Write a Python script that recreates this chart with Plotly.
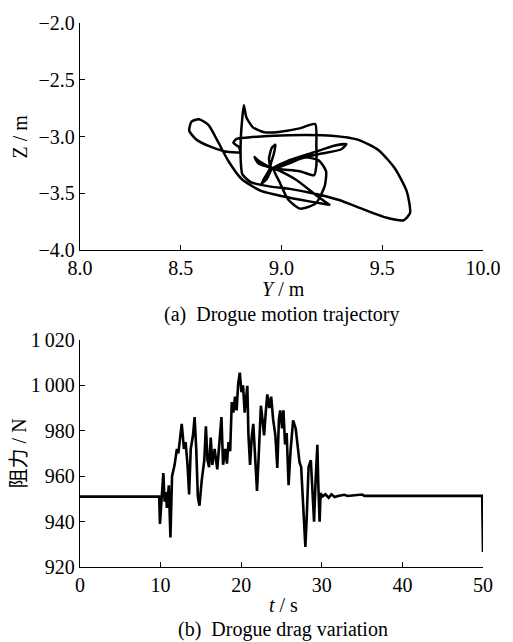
import plotly.graph_objects as go
from plotly.subplots import make_subplots

# ---- (a) drogue trajectory (Y, Z in m) ----
traj_y = [9.242, 9.170, 9.074, 8.994, 8.946, 8.962, 8.970, 8.951, 8.938, 8.943,
          8.914, 8.901, 8.927, 8.954, 9.026, 9.154, 9.266, 9.322, 9.295, 9.186,
          9.058, 8.962, 8.991, 9.034, 9.093, 9.170, 9.215, 9.221, 9.186, 9.119,
          9.039, 8.962, 8.890, 8.866, 8.885, 8.962, 9.090, 9.162, 9.173, 9.173,
          9.167, 9.090, 8.994, 8.914, 8.858, 8.826, 8.813, 8.805, 8.798, 8.798,
          8.806, 8.850, 8.946, 9.042, 9.154, 9.282, 9.410, 9.523, 9.606, 9.638,
          9.622, 9.563, 9.483, 9.378, 9.250, 9.122, 8.962, 8.834, 8.777, 8.761,
          8.789, 8.794, 8.721, 8.641, 8.574, 8.542, 8.553, 8.590, 8.638, 8.686,
          8.737, 8.802, 8.898, 9.010, 9.138, 9.234]
traj_z = [-3.606, -3.514, -3.383, -3.305, -3.267, -3.151, -3.073, -3.102, -3.195, -3.276,
          -3.369, -3.415, -3.374, -3.282, -3.218, -3.143, -3.079, -3.067, -3.114, -3.154,
          -3.212, -3.282, -3.403, -3.557, -3.635, -3.589, -3.432, -3.305, -3.212, -3.183,
          -3.235, -3.282, -3.218, -3.180, -3.235, -3.282, -3.305, -3.340, -3.253, -3.079,
          -2.890, -2.928, -2.957, -2.963, -2.919, -2.832, -2.725, -2.847, -3.021, -3.224,
          -3.334, -3.403, -3.441, -3.461, -3.499, -3.557, -3.644, -3.716, -3.737, -3.673,
          -3.485, -3.282, -3.122, -3.027, -2.992, -2.986, -2.992, -3.009, -3.021, -3.056,
          -3.093, -3.137, -3.131, -3.085, -3.021, -2.948, -2.870, -2.847, -2.899, -3.050,
          -3.218, -3.374, -3.479, -3.528, -3.571, -3.600]

# ---- (b) drogue drag (t in s, F in N) ----
time_s = [0, 9.82, 9.92, 10.34, 10.5, 10.66, 10.78, 11.02, 11.22, 11.42,
          11.74, 12.02, 12.2, 12.62, 12.9, 13.1, 13.34, 13.54, 13.74, 14.02,
          14.22, 14.42, 14.62, 14.82, 15.1, 15.42, 15.62, 15.82, 16.02, 16.22,
          16.42, 16.7, 17.03, 17.35, 17.55, 17.75, 18.03, 18.23, 18.43, 18.63,
          18.83, 19.03, 19.23, 19.43, 19.63, 19.83, 20.03, 20.23, 20.43, 20.76,
          20.9, 21.1, 21.3, 21.5, 21.76, 21.96, 22.16, 22.44, 22.64, 22.84,
          23.04, 23.24, 23.48, 23.72, 23.96, 24.24, 24.48, 24.68, 24.84, 25.08,
          25.24, 25.44, 25.64, 25.88, 26.12, 26.44, 26.76, 27.04, 27.24, 27.44,
          27.64, 27.84, 27.96, 28.12, 28.36, 28.64, 28.84, 29.04, 29.24, 29.45,
          29.57, 29.73, 29.85, 30.05, 30.45, 30.85, 31.2, 31.6, 32.0, 32.8,
          33.2, 35.0, 35.3, 49.9, 50.0]
drag_n = [951, 951, 939, 961.4, 948.8, 953, 946, 956, 933, 960,
          965, 972, 970, 983, 972, 975, 965, 952, 972, 978,
          986, 972, 951, 947, 958, 967, 982, 967, 964, 977,
          965, 972, 963, 979, 986, 965, 972, 965.5, 975, 971,
          992.6, 988, 995, 989, 1001, 1005.6, 997, 1000, 988, 999.8,
          978, 965, 977, 983, 968, 953.5, 968, 991, 985, 978,
          988, 996, 990, 995, 985, 978, 963.6, 985, 989, 981,
          989, 974, 979, 956, 971, 984.6, 981, 971, 966, 964,
          949, 939, 928.8, 941, 964, 967, 952.6, 940, 959, 973.8,
          956, 940, 952.6, 951, 952, 950.5, 952, 950.8, 951.3, 951.8,
          951.3, 951.9, 951.3, 951.3, 926.6]

# ---- tick labels ----
a_xticks = [8.0, 8.5, 9.0, 9.5, 10.0]
a_xtext = ["8.0", "8.5", "9.0", "9.5", "10.0"]
a_yticks = [-2.0, -2.5, -3.0, -3.5, -4.0]
a_ytext = ["\u22122.0", "\u22122.5", "\u22123.0", "\u22123.5", "\u22124.0"]
b_xticks = [0, 10, 20, 30, 40, 50]
b_xtext = ["0", "10", "20", "30", "40", "50"]
b_yticks = [920, 940, 960, 980, 1000, 1020]
b_ytext = ["920", "940", "960", "980", "1\u2009000", "1\u2009020"]

FONT = "'Liberation Serif', 'Noto Sans CJK SC', serif"
FS = 20

fig = make_subplots(rows=2, cols=1)
fig.add_trace(go.Scatter(x=traj_y, y=traj_z, mode="lines",
                         line=dict(color="black", width=2.5, shape="spline", smoothing=0.6),
                         showlegend=False), row=1, col=1)
fig.add_trace(go.Scatter(x=time_s, y=drag_n, mode="lines",
                         line=dict(color="black", width=2.6),
                         showlegend=False), row=2, col=1)

H_PLOT = 642 - 16 - 75
top_bottom = (567 - 246) / H_PLOT
bot_top = (567 - 337) / H_PLOT

axis_common = dict(showline=True, linecolor="black", linewidth=1.3, ticks="inside",
                   ticklen=5, tickwidth=1.2, tickcolor="black", showgrid=False,
                   zeroline=False, mirror=False,
                   tickfont=dict(family=FONT, size=FS, color="black"))

fig.update_layout(
    width=513, height=642,
    margin=dict(l=80, r=17, t=16, b=75),
    paper_bgcolor="white", plot_bgcolor="white",
    font=dict(family=FONT, color="black", size=FS),
    xaxis=dict(domain=[0, 1], range=[8.0, 10.0], tickvals=a_xticks, ticktext=a_xtext, **axis_common),
    yaxis=dict(domain=[top_bottom, 1], range=[-4.0, -2.0], tickvals=a_yticks, ticktext=a_ytext, **axis_common),
    xaxis2=dict(domain=[0, 1], range=[0, 50], tickvals=b_xticks, ticktext=b_xtext, **axis_common),
    yaxis2=dict(domain=[0, bot_top], range=[920, 1020], tickvals=b_yticks, ticktext=b_ytext, **axis_common),
)

def py(ypx):
    return (567 - ypx) / H_PLOT

def px(xpx):
    return (xpx - 80) / 416

ann = [
    dict(text="Z / m", x=px(18), y=py(131), textangle=-90),
    dict(text="<i>Y</i> / m", x=px(290), y=py(285)),
    dict(text="(a)  Drogue motion trajectory", x=px(288), y=py(311)),
    dict(text="阻力 / N", x=px(18), y=py(452), textangle=-90),
    dict(text="<i>t</i> / s", x=px(290), y=py(605)),
    dict(text="(b)  Drogue drag variation", x=px(290), y=py(630)),
]
for a in ann:
    fig.add_annotation(xref="paper", yref="paper", showarrow=False,
                       xanchor="center", yanchor="middle",
                       font=dict(family=FONT, size=FS, color="black"), **a)

fig.write_html("out.html")
